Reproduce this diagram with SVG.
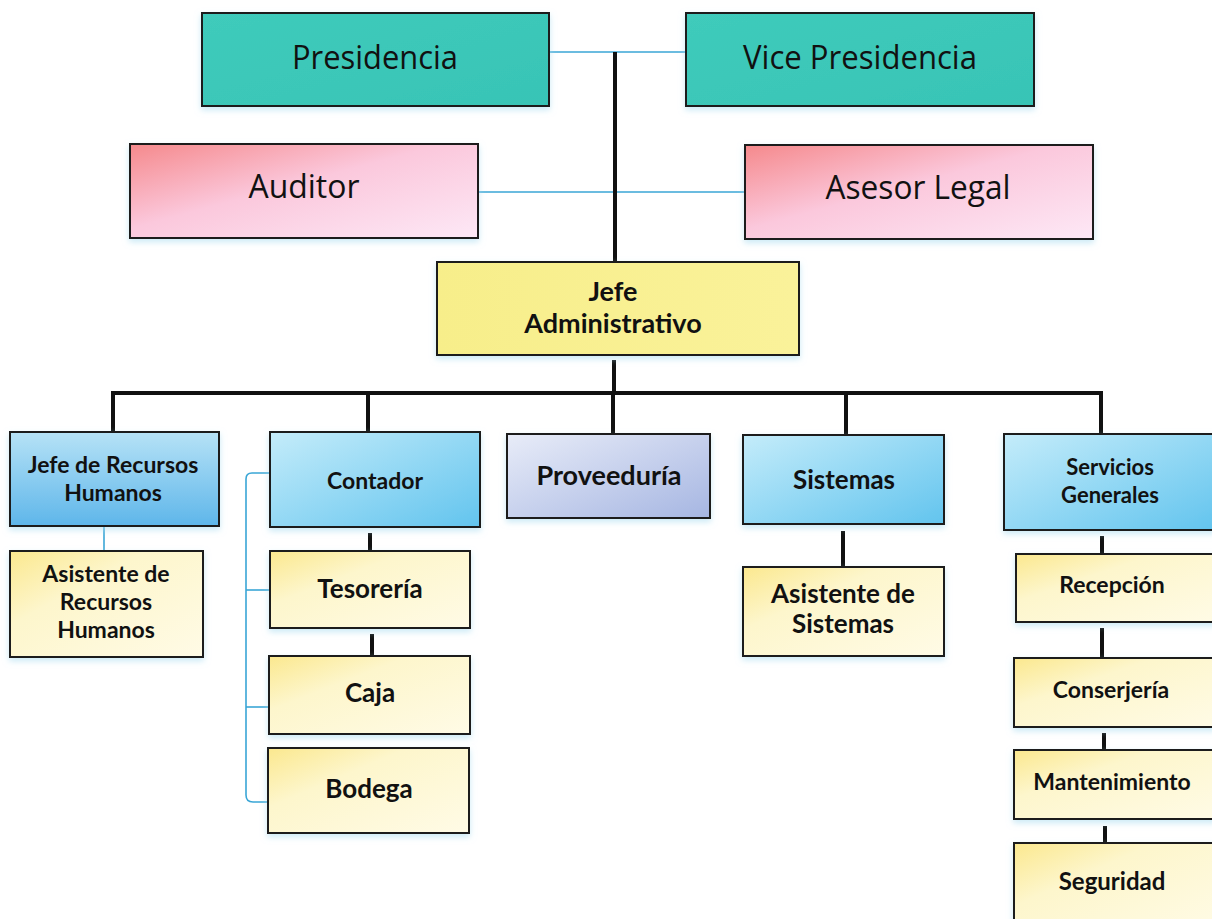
<svg xmlns="http://www.w3.org/2000/svg" width="1212" height="919" viewBox="0 0 1212 919">
  <style>
    .box { stroke: #1a1a1a; stroke-width: 2; filter: url(#glow); }
    .top { font-family: "Open Sans", "Noto Sans", sans-serif; font-size: 32px; fill: #111; text-anchor: middle; }
    .lbl { font-family: Lato, "Open Sans", sans-serif; font-weight: bold; fill: #111; text-anchor: middle; }
    .thick { stroke: #111; stroke-width: 4; fill: none; }
    .thin { stroke: #3aa6d6; stroke-width: 1.6; fill: none; }
  </style>
  <defs>
    <filter id="glow" x="-10%" y="-10%" width="120%" height="130%">
      <feDropShadow dx="0" dy="3" stdDeviation="3" flood-color="#a8dcf0" flood-opacity="0.6"/>
    </filter>
    <linearGradient id="teal" x1="0" y1="0" x2="1" y2="1">
      <stop offset="0" stop-color="#3fcbbb"/>
      <stop offset="1" stop-color="#38c4b6"/>
    </linearGradient>
    <linearGradient id="pink" x1="0" y1="0" x2="1" y2="1">
      <stop offset="0" stop-color="#f5898c"/>
      <stop offset="0.45" stop-color="#fbc8dc"/>
      <stop offset="1" stop-color="#fde8f6"/>
    </linearGradient>
    <linearGradient id="yellow" x1="0" y1="0" x2="1" y2="0">
      <stop offset="0" stop-color="#f7ee8a"/>
      <stop offset="1" stop-color="#faf29a"/>
    </linearGradient>
    <linearGradient id="blueDown" x1="0" y1="0" x2="0" y2="1">
      <stop offset="0" stop-color="#b6e2f6"/>
      <stop offset="1" stop-color="#5eb6ea"/>
    </linearGradient>
    <linearGradient id="blue" x1="0" y1="0" x2="1" y2="1">
      <stop offset="0" stop-color="#c4ecfa"/>
      <stop offset="1" stop-color="#62c4ee"/>
    </linearGradient>
    <linearGradient id="lav" x1="0" y1="0" x2="1" y2="1">
      <stop offset="0" stop-color="#e8ecf8"/>
      <stop offset="1" stop-color="#a6b6e2"/>
    </linearGradient>
    <linearGradient id="cream" x1="0" y1="0" x2="1" y2="1">
      <stop offset="0" stop-color="#fbe88e"/>
      <stop offset="0.35" stop-color="#fdf6cc"/>
      <stop offset="1" stop-color="#fffbe6"/>
    </linearGradient>
  </defs>

  <rect width="1212" height="919" fill="#ffffff"/>

  <!-- connectors -->
  <g id="connectors">
    <path class="thin" d="M549,52 H686"/>
    <path class="thin" d="M478,192 H745"/>
    <path class="thick" d="M615,52 V262"/>
    <path class="thick" d="M614,360 V395"/>
    <path class="thick" d="M111,393 H1103"/>
    <path class="thick" d="M113,391 V432"/>
    <path class="thick" d="M368,391 V432"/>
    <path class="thick" d="M613,391 V434"/>
    <path class="thick" d="M846,391 V435"/>
    <path class="thick" d="M1101,391 V434"/>
    <path class="thin" d="M104,526 V551"/>
    <path class="thick" d="M370,533 V551"/>
    <path class="thick" d="M372,634 V656"/>
    <path class="thin" d="M270,473 H252 Q246,473 246,479 V795 Q246,802 253,802 H269"/>
    <path class="thin" d="M246,590 H270"/>
    <path class="thin" d="M246,707 H269"/>
    <path class="thick" d="M843,531 V567"/>
    <path class="thick" d="M1102,536 V554"/>
    <path class="thick" d="M1102,628 V657"/>
    <path class="thick" d="M1104,733 V750"/>
    <path class="thick" d="M1105,826 V843"/>
  </g>

  <g id="presidencia">
    <rect class="box" x="202" y="13" width="347" height="93" fill="url(#teal)"/>
    <text class="top" x="375" y="69" textLength="166" lengthAdjust="spacingAndGlyphs">Presidencia</text>
  </g>
  <g id="vice-presidencia">
    <rect class="box" x="686" y="13" width="348" height="93" fill="url(#teal)"/>
    <text class="top" x="860" y="69" textLength="234" lengthAdjust="spacingAndGlyphs">Vice Presidencia</text>
  </g>
  <g id="auditor">
    <rect class="box" x="130" y="144" width="348" height="94" fill="url(#pink)"/>
    <text class="top" x="304" y="198" textLength="111" lengthAdjust="spacingAndGlyphs">Auditor</text>
  </g>
  <g id="asesor-legal">
    <rect class="box" x="745" y="145" width="348" height="94" fill="url(#pink)"/>
    <text class="top" x="918" y="199" textLength="185" lengthAdjust="spacingAndGlyphs">Asesor Legal</text>
  </g>
  <g id="jefe-administrativo">
    <rect class="box" x="437" y="262" width="362" height="93" fill="url(#yellow)"/>
    <text class="lbl" x="613" y="301" style="font-size:27px">Jefe</text>
    <text class="lbl" x="613" y="333" style="font-size:27px">Administrativo</text>
  </g>

  <g id="jefe-recursos-humanos">
    <rect class="box" x="10" y="432" width="209" height="94" fill="url(#blueDown)"/>
    <text class="lbl" x="113" y="473" style="font-size:23px">Jefe de Recursos</text>
    <text class="lbl" x="113" y="501" style="font-size:23px">Humanos</text>
  </g>
  <g id="contador">
    <rect class="box" x="270" y="432" width="210" height="95" fill="url(#blue)"/>
    <text class="lbl" x="375" y="489" style="font-size:23px">Contador</text>
  </g>
  <g id="proveeduria">
    <rect class="box" x="507" y="434" width="203" height="84" fill="url(#lav)"/>
    <text class="lbl" x="609" y="485" style="font-size:27px">Proveeduría</text>
  </g>
  <g id="sistemas">
    <rect class="box" x="743" y="435" width="201" height="89" fill="url(#blue)"/>
    <text class="lbl" x="844" y="489" style="font-size:26px">Sistemas</text>
  </g>
  <g id="servicios-generales">
    <rect class="box" x="1004" y="434" width="212" height="96" fill="url(#blue)"/>
    <text class="lbl" x="1110" y="475" style="font-size:22px">Servicios</text>
    <text class="lbl" x="1110" y="503" style="font-size:22px">Generales</text>
  </g>

  <g id="asistente-recursos-humanos">
    <rect class="box" x="10" y="551" width="193" height="106" fill="url(#cream)"/>
    <text class="lbl" x="106" y="582" style="font-size:23px">Asistente de</text>
    <text class="lbl" x="106" y="610" style="font-size:23px">Recursos</text>
    <text class="lbl" x="106" y="638" style="font-size:23px">Humanos</text>
  </g>
  <g id="tesoreria">
    <rect class="box" x="270" y="551" width="200" height="77" fill="url(#cream)"/>
    <text class="lbl" x="370" y="598" style="font-size:26px">Tesorería</text>
  </g>
  <g id="caja">
    <rect class="box" x="269" y="656" width="201" height="78" fill="url(#cream)"/>
    <text class="lbl" x="370" y="702" style="font-size:26px">Caja</text>
  </g>
  <g id="bodega">
    <rect class="box" x="268" y="748" width="201" height="85" fill="url(#cream)"/>
    <text class="lbl" x="369" y="798" style="font-size:26px">Bodega</text>
  </g>
  <g id="asistente-sistemas">
    <rect class="box" x="743" y="567" width="201" height="89" fill="url(#cream)"/>
    <text class="lbl" x="843" y="603" style="font-size:26px">Asistente de</text>
    <text class="lbl" x="843" y="633" style="font-size:26px">Sistemas</text>
  </g>
  <g id="recepcion">
    <rect class="box" x="1016" y="554" width="200" height="68" fill="url(#cream)"/>
    <text class="lbl" x="1112" y="593" style="font-size:23px">Recepción</text>
  </g>
  <g id="conserjeria">
    <rect class="box" x="1014" y="658" width="202" height="69" fill="url(#cream)"/>
    <text class="lbl" x="1111" y="698" style="font-size:23px">Conserjería</text>
  </g>
  <g id="mantenimiento">
    <rect class="box" x="1014" y="750" width="202" height="69" fill="url(#cream)"/>
    <text class="lbl" x="1112" y="790" style="font-size:23px">Mantenimiento</text>
  </g>
  <g id="seguridad">
    <rect class="box" x="1014" y="843" width="202" height="90" fill="url(#cream)"/>
    <text class="lbl" x="1112" y="890" style="font-size:24px">Seguridad</text>
  </g>
</svg>
